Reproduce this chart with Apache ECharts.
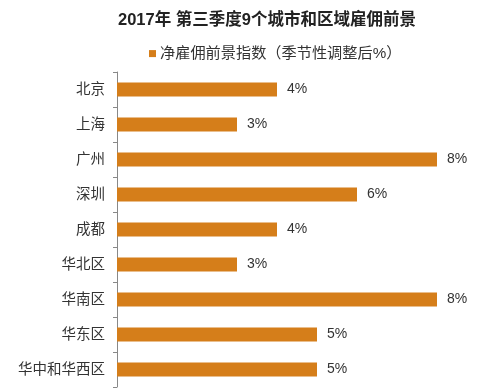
<!DOCTYPE html>
<html><head><meta charset="utf-8">
<script src="https://cdn.jsdelivr.net/npm/echarts@6/dist/echarts.min.js"></script>
<style>html,body{margin:0;padding:0;background:#fff}#c{width:500px;height:388px}</style>
</head><body><div id="c"></div>
<script>
const categories = ['北京','上海','广州','深圳','成都','华北区','华南区','华东区','华中和华西区'];
const values = [4,3,8,6,4,3,8,5,5];
const seriesName = '净雇佣前景指数（季节性调整后%）';
const titleText = '2017年 第三季度9个城市和区域雇佣前景';
const FONT = '"Liberation Sans", Arial, "Noto Sans CJK SC", sans-serif';
const chart = echarts.init(document.getElementById('c'), null, {renderer:'canvas'});
chart.setOption({
  animation:false,
  backgroundColor:'#fff',
  title:{text:titleText,left:113,top:7,textStyle:{fontFamily:FONT,fontSize:16.5,fontWeight:'bold',color:'#222'}},
  legend:{data:[seriesName],left:144,top:41,icon:'rect',itemWidth:7,itemHeight:7,itemGap:5,
    textStyle:{fontFamily:FONT,fontSize:15.2,color:'#333',padding:[0,0,0,-1]}},
  grid:{left:117,top:72,right:63,bottom:1,containLabel:false},
  xAxis:{type:'value',min:0,max:8,show:false},
  yAxis:{type:'category',data:categories,inverse:true,
    axisLine:{lineStyle:{color:'#888',width:1}},
    axisTick:{show:true,length:4,lineStyle:{color:'#888'}},
    axisLabel:{fontFamily:FONT,fontSize:14.5,color:'#333',margin:12}},
  series:[{name:seriesName,type:'bar',data:values,barWidth:14,itemStyle:{color:'#D57E1A'},
    label:{show:true,position:'right',distance:10,formatter:'{c}%',fontFamily:FONT,fontSize:14,color:'#333'}}]
});
</script></body></html>
